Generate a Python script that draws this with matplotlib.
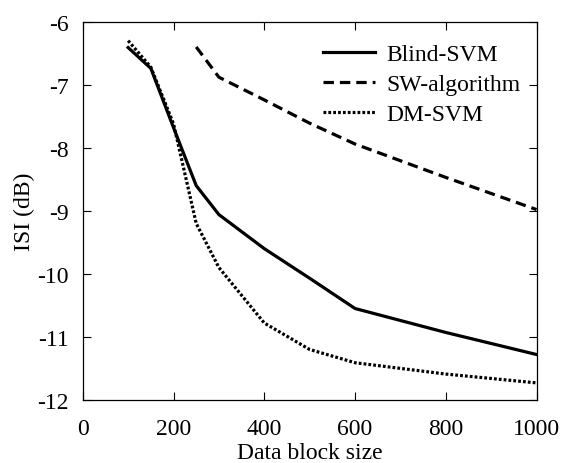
import matplotlib
matplotlib.use("Agg")
import matplotlib.pyplot as plt

plt.rcParams['font.family'] = ['Liberation Serif', 'DejaVu Serif']
plt.rcParams['axes.unicode_minus'] = False
plt.rcParams['lines.scale_dashes'] = False

blind_x = [100, 150, 200, 250, 300, 400, 500, 600, 800, 1000]
blind_y = [-6.41, -6.74, -7.68, -8.60, -9.06, -9.60, -10.07, -10.55, -10.93, -11.28]

sw_x = [250, 300, 400, 500, 600, 800, 1000]
sw_y = [-6.40, -6.88, -7.24, -7.61, -7.94, -8.47, -8.98]

dm_x = [100, 150, 200, 250, 300, 400, 500, 600, 800, 1000]
dm_y = [-6.30, -6.72, -7.62, -9.20, -9.90, -10.78, -11.20, -11.41, -11.59, -11.73]

xticks = [0, 200, 400, 600, 800, 1000]
yticks = [-12, -11, -10, -9, -8, -7, -6]

FS = 17

fig = plt.figure(figsize=(5.63, 4.64), dpi=100)
ax = fig.add_axes([0.147, 0.136, 0.806, 0.815])

ax.plot(blind_x, blind_y, color='black', lw=2.3, label='Blind-SVM')
ax.plot(sw_x, sw_y, color='black', lw=2.3, dashes=(7.5, 4.3), label='SW-algorithm')
ax.plot(dm_x, dm_y, color='black', lw=2.3, dashes=(2.0, 1.5), label='DM-SVM')

ax.set_xlim(0, 1000)
ax.set_ylim(-12, -6)
ax.set_xticks(xticks)
ax.set_xticklabels([str(v) for v in xticks])
ax.set_yticks(yticks)
ax.set_yticklabels([str(v) for v in yticks])
ax.tick_params(direction='in', top=True, right=True, length=6, width=0.8,
               labelsize=FS)
ax.tick_params(axis='x', pad=13)
ax.tick_params(axis='y', pad=10)
for s in ax.spines.values():
    s.set_linewidth(0.9)

ax.set_xlabel('Data block size', fontsize=FS, labelpad=2.5)
ax.set_ylabel('ISI (dB)', fontsize=FS, labelpad=2)

ax.legend(loc='upper right', bbox_to_anchor=(1.0, 0.985), frameon=False,
          fontsize=FS, handlelength=2.2, handletextpad=0.45,
          labelspacing=0.35, borderpad=0.2)

fig.savefig('out.png', dpi=100)
